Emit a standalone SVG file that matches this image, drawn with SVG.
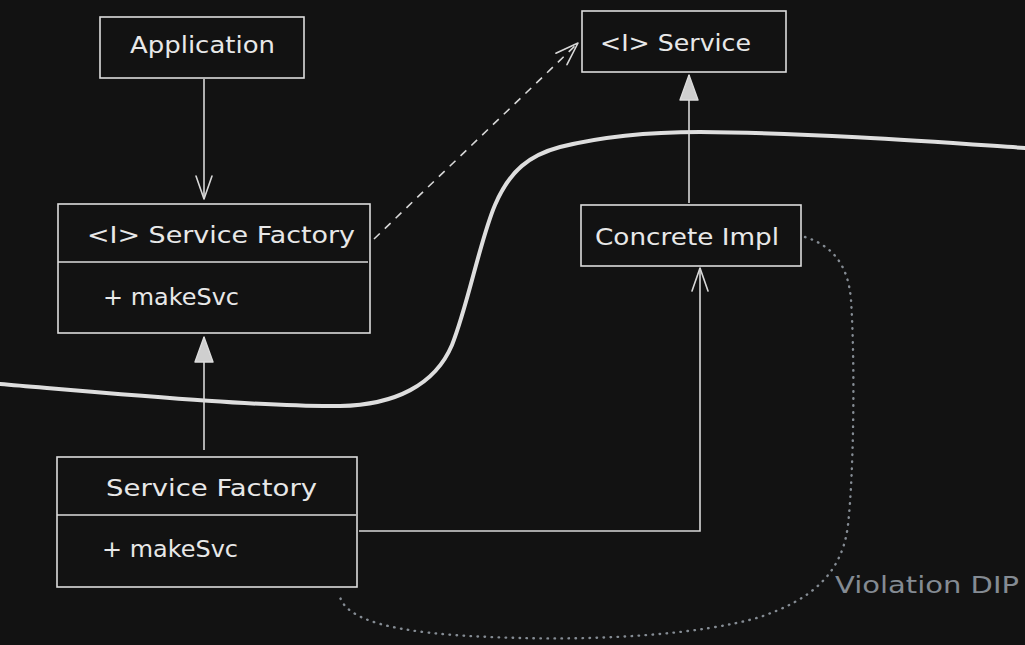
<svg xmlns="http://www.w3.org/2000/svg" width="1025" height="645" viewBox="0 0 1025 645">
  <defs>
    <style>
      .box { fill: #121212; stroke: #dcdcdc; stroke-width: 1.6; }
      .div { stroke: #dcdcdc; stroke-width: 1.6; }
      .lbl { font-family: "DejaVu Sans", "Liberation Sans", sans-serif; font-size: 23px; fill: #e8e8e8; }
      .conn { fill: none; stroke: #d8d8d8; stroke-width: 1.6; }
      .dash { stroke-dasharray: 8 7; }
      .dot { fill: none; stroke: #858c94; stroke-width: 2.4; stroke-dasharray: 0.5 6.5; stroke-linecap: round; }
      .boundary { fill: none; stroke: #dedede; stroke-width: 4; stroke-linecap: round; }
      .note { font-family: "DejaVu Sans", "Liberation Sans", sans-serif; font-size: 23px; fill: #848b93; }
    </style>
    <marker id="open" markerUnits="userSpaceOnUse" markerWidth="30" markerHeight="30" viewBox="0 0 30 30" refX="25" refY="12" orient="auto">
      <path d="M2,4 L25,12 L2,20" fill="none" stroke="#d8d8d8" stroke-width="1.6" stroke-linecap="round" stroke-linejoin="round"/>
    </marker>
    <marker id="tri" markerUnits="userSpaceOnUse" markerWidth="30" markerHeight="24" viewBox="0 0 30 24" refX="26" refY="10" orient="auto">
      <path d="M1,1 L26,10 L1,19 Z" fill="#cfcfcf" stroke="#dcdcdc" stroke-width="1.4" stroke-linejoin="round"/>
    </marker>
  </defs>
  <rect x="0" y="0" width="1025" height="645" fill="#121212"/>

  <path class="boundary" d="M0,384 C120,394 260,407 340,406 C395,405 435,385 452,345 C468,305 480,240 495,205 C510,170 530,155 560,147 C600,137 650,132 700,132 C820,133 950,143 1025,148"/>

  <g id="connectors">
    <path class="conn" d="M204,79 L204,199" marker-end="url(#open)"/>
    <path class="conn dash" d="M374,239 L578,43" marker-end="url(#open)"/>
    <path class="conn" d="M204,450 L204,337" marker-end="url(#tri)"/>
    <path class="conn" d="M689,203 L689,75" marker-end="url(#tri)"/>
    <path class="conn" d="M359,531 L700,531 L700,268" marker-end="url(#open)"/>
    <path class="dot" d="M805,237 C830,245 848,262 851,300 C855,360 854,470 848,525 C842,575 810,600 760,617 C700,635 600,640 520,638 C440,636 350,630 340,597"/>
  </g>

  <g id="application">
    <rect class="box" x="100" y="17" width="204" height="61"/>
    <text class="lbl" x="130" y="53" textLength="145" lengthAdjust="spacingAndGlyphs">Application</text>
  </g>

  <g id="iservice">
    <rect class="box" x="582" y="11" width="204" height="61"/>
    <text class="lbl" x="600" y="51" textLength="151" lengthAdjust="spacingAndGlyphs">&lt;I&gt; Service</text>
  </g>

  <g id="iservicefactory">
    <rect class="box" x="58" y="204" width="312" height="129"/>
    <line class="div" x1="58" y1="262" x2="368" y2="262"/>
    <text class="lbl" x="87" y="243" textLength="268" lengthAdjust="spacingAndGlyphs">&lt;I&gt; Service Factory</text>
    <text class="lbl" x="103" y="305" textLength="136" lengthAdjust="spacingAndGlyphs">+ makeSvc</text>
  </g>

  <g id="concreteimpl">
    <rect class="box" x="581" y="205" width="220" height="61"/>
    <text class="lbl" x="595" y="245" textLength="184" lengthAdjust="spacingAndGlyphs">Concrete Impl</text>
  </g>

  <g id="servicefactory">
    <rect class="box" x="57" y="457" width="300" height="130"/>
    <line class="div" x1="57" y1="515" x2="356" y2="515"/>
    <text class="lbl" x="106" y="496" textLength="211" lengthAdjust="spacingAndGlyphs">Service Factory</text>
    <text class="lbl" x="102" y="557" textLength="136" lengthAdjust="spacingAndGlyphs">+ makeSvc</text>
  </g>

  <g id="violation">
    <text class="note" x="835" y="593" textLength="184" lengthAdjust="spacingAndGlyphs">Violation DIP</text>
  </g>
</svg>
